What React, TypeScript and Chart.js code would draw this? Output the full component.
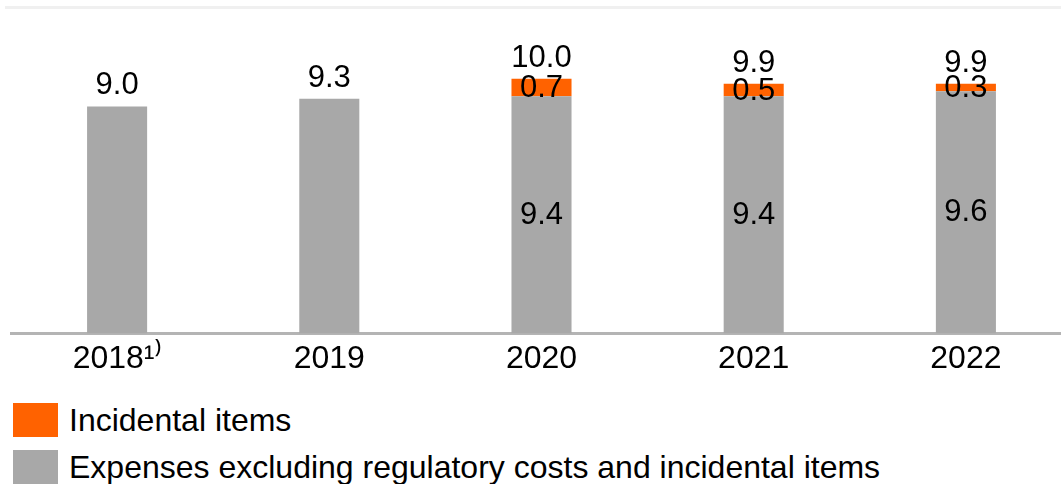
import React, { useEffect, useRef } from 'react';
import { Chart, registerables } from 'chart.js';

Chart.register(...registerables);

const categories = ['2018¹⁾', '2019', '2020', '2021', '2022'];
const expenses = [9.0, 9.3, 9.4, 9.4, 9.6];
const incidental: (number | null)[] = [null, null, 0.7, 0.5, 0.3];
const totals = ['9.0', '9.3', '10.0', '9.9', '9.9'];
const seriesNames = ['Incidental items', 'Expenses excluding regulatory costs and incidental items'];

const ORANGE = '#FF6200';
const GRAY = '#A8A8A8';
const FONT = "'Liberation Sans', Arial, sans-serif";

const labelPlugin = {
  id: 'barLabels',
  afterDatasetsDraw(chart: any) {
    const ctx = chart.ctx;
    const m0 = chart.getDatasetMeta(0);
    const m1 = chart.getDatasetMeta(1);
    ctx.save();
    ctx.fillStyle = '#000';
    ctx.font = `31px ${FONT}`;
    ctx.textAlign = 'center';
    for (let i = 0; i < categories.length; i++) {
      const b0 = m0.data[i];
      let top = b0.y;
      const inc = incidental[i];
      if (inc != null) {
        const b1 = m1.data[i];
        ctx.textBaseline = 'middle';
        ctx.fillText(expenses[i].toFixed(1), b0.x, (b0.y + b0.base) / 2);
        ctx.fillText(inc.toFixed(1), b1.x, (b1.y + b1.base) / 2 + 1);
        top = b1.y;
      }
      ctx.textBaseline = 'alphabetic';
      ctx.fillText(totals[i], b0.x, top - 12);
    }
    ctx.restore();
  },
};

export default function App() {
  const ref = useRef<HTMLCanvasElement>(null);
  useEffect(() => {
    if (!ref.current) return;
    const chart = new Chart(ref.current, {
      type: 'bar',
      data: {
        labels: categories,
        datasets: [
          {
            label: seriesNames[1],
            data: expenses,
            backgroundColor: GRAY,
            barPercentage: 0.283,
            categoryPercentage: 1,
          },
          {
            label: seriesNames[0],
            data: incidental,
            backgroundColor: ORANGE,
            barPercentage: 0.283,
            categoryPercentage: 1,
          },
        ],
      },
      options: {
        responsive: false,
        animation: false,
        layout: { padding: { left: 11, right: 0, top: 8, bottom: 16 } },
        plugins: { legend: { display: false }, tooltip: { enabled: false } },
        scales: {
          x: {
            stacked: true,
            grid: { display: false, drawTicks: false },
            border: { display: true, color: '#B4B4B4', width: 3 },
            ticks: { color: '#000', font: { family: FONT, size: 32 }, padding: 6 },
          },
          y: {
            stacked: true,
            display: false,
            min: 0,
            max: 12.9,
          },
        },
      },
      plugins: [labelPlugin],
    });
    return () => chart.destroy();
  }, []);

  const legendRow = (color: string, text: string, top: number) => (
    <div style={{ position: 'absolute', left: 13, top, height: 34, display: 'flex', alignItems: 'center' }}>
      <div style={{ width: 45, height: 34, background: color }} />
      <span style={{ marginLeft: 11, fontFamily: FONT, fontSize: 32, color: '#000', whiteSpace: 'nowrap', lineHeight: '34px' }}>{text}</span>
    </div>
  );

  return (
    <div style={{ position: 'absolute', left: 0, top: 0, width: 1061, height: 484, overflow: 'hidden', background: '#fff' }}>
      <div style={{ position: 'absolute', left: 5, top: 6, width: 1056, height: 3, background: '#F0F0F0' }} />
      <canvas ref={ref} width={1072} height={400} style={{ position: 'absolute', left: 0, top: 0, width: 1072, height: 400 }} />
      {legendRow(ORANGE, seriesNames[0], 403)}
      {legendRow(GRAY, seriesNames[1], 450)}
    </div>
  );
}
